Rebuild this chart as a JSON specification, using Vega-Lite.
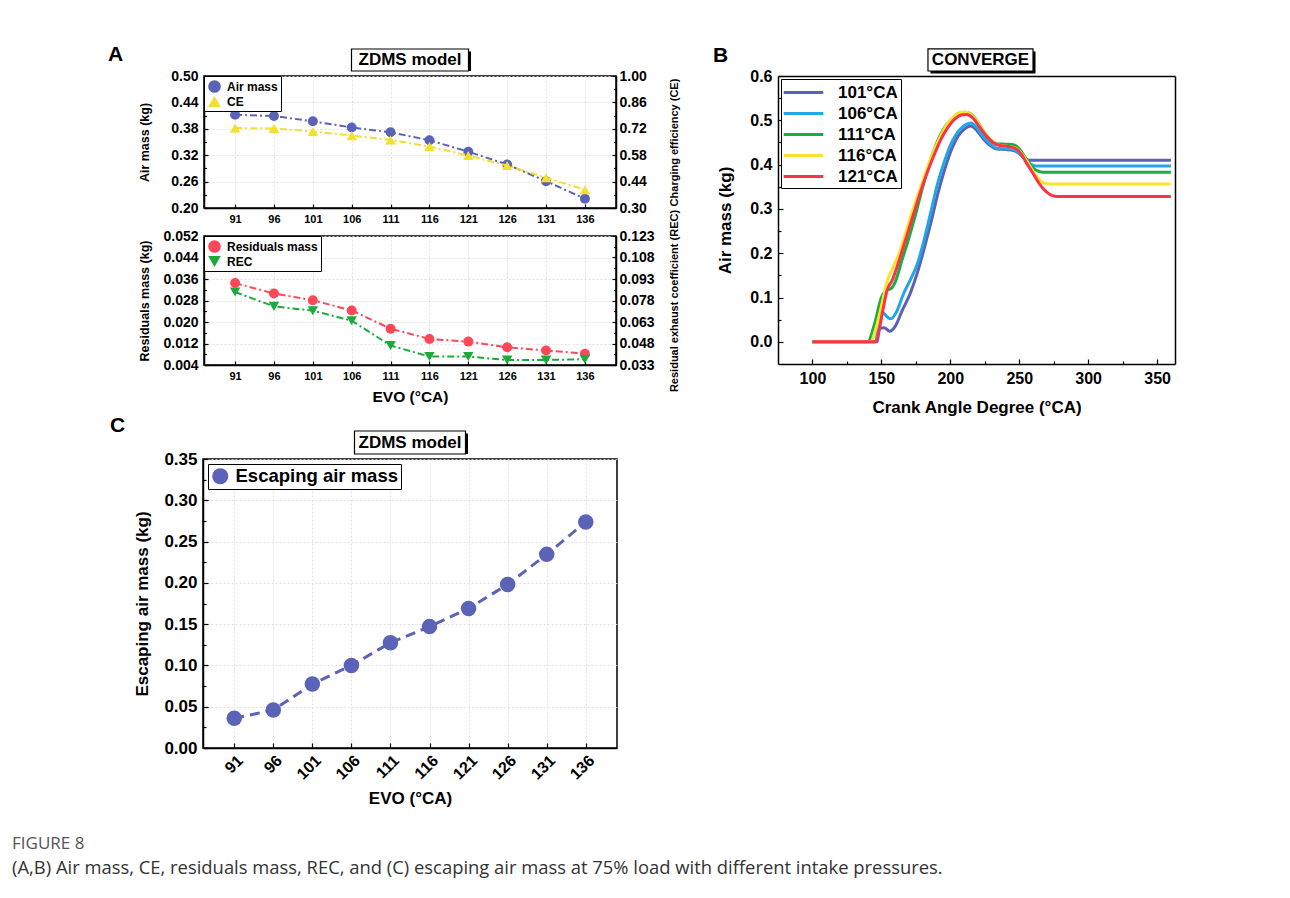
{
  "$schema": "https://vega.github.io/schema/vega-lite/v6.json",
  "padding": {"left": 12, "top": 44, "right": 10, "bottom": 10},
  "background": "white",
  "config": {
    "font": "Liberation Sans",
    "view": {"stroke": "black", "strokeWidth": 1.5},
    "axis": {"labelFont": "Liberation Sans", "titleFont": "Liberation Sans", "labelFontWeight": "bold", "titleFontWeight": "bold", "labelColor": "black", "titleColor": "black", "domainColor": "black", "domainWidth": 1.5, "tickColor": "black", "tickWidth": 1.2, "gridColor": "#d9d9d9", "gridDash": [2, 2], "gridWidth": 0.8},
    "legend": {"labelFont": "Liberation Sans", "labelFontWeight": "bold", "labelColor": "black", "strokeColor": "black", "fillColor": "white", "cornerRadius": 0, "labelLimit": 400},
    "title": {"font": "Liberation Sans", "fontWeight": "bold", "color": "black"}
  },
  "datasets": {
    "evo": [
      {"evo": 91, "air": 0.412, "ce": 0.724, "res": 0.0345, "rec": 0.0839, "esc": 0.036},
      {"evo": 96, "air": 0.409, "ce": 0.722, "res": 0.0306, "rec": 0.0739, "esc": 0.046},
      {"evo": 101, "air": 0.397, "ce": 0.706, "res": 0.0281, "rec": 0.0709, "esc": 0.0775},
      {"evo": 106, "air": 0.383, "ce": 0.684, "res": 0.0243, "rec": 0.0639, "esc": 0.1},
      {"evo": 111, "air": 0.372, "ce": 0.661, "res": 0.0175, "rec": 0.0466, "esc": 0.1275},
      {"evo": 116, "air": 0.354, "ce": 0.626, "res": 0.0137, "rec": 0.0389, "esc": 0.147},
      {"evo": 121, "air": 0.328, "ce": 0.578, "res": 0.0127, "rec": 0.0389, "esc": 0.169},
      {"evo": 126, "air": 0.299, "ce": 0.525, "res": 0.0106, "rec": 0.0365, "esc": 0.198},
      {"evo": 131, "air": 0.261, "ce": 0.46, "res": 0.0094, "rec": 0.0365, "esc": 0.2345},
      {"evo": 136, "air": 0.221, "ce": 0.397, "res": 0.0082, "rec": 0.037, "esc": 0.2737}
    ],
    "crank": [
      {"case": "101°CA", "cad": 100, "mass": 0}, {"case": "101°CA", "cad": 147, "mass": 0}, {"case": "101°CA", "cad": 148.5, "mass": 0.03}, {"case": "101°CA", "cad": 152, "mass": 0.032}, {"case": "101°CA", "cad": 156, "mass": 0.024}, {"case": "101°CA", "cad": 160, "mass": 0.035}, {"case": "101°CA", "cad": 165, "mass": 0.07}, {"case": "101°CA", "cad": 171, "mass": 0.11}, {"case": "101°CA", "cad": 176, "mass": 0.155}, {"case": "101°CA", "cad": 181, "mass": 0.21}, {"case": "101°CA", "cad": 186, "mass": 0.27}, {"case": "101°CA", "cad": 191, "mass": 0.335}, {"case": "101°CA", "cad": 196, "mass": 0.39}, {"case": "101°CA", "cad": 201, "mass": 0.435}, {"case": "101°CA", "cad": 206, "mass": 0.466}, {"case": "101°CA", "cad": 211, "mass": 0.482}, {"case": "101°CA", "cad": 215, "mass": 0.487}, {"case": "101°CA", "cad": 219, "mass": 0.478}, {"case": "101°CA", "cad": 224, "mass": 0.458}, {"case": "101°CA", "cad": 229, "mass": 0.443}, {"case": "101°CA", "cad": 234, "mass": 0.435}, {"case": "101°CA", "cad": 240, "mass": 0.434}, {"case": "101°CA", "cad": 246, "mass": 0.432}, {"case": "101°CA", "cad": 250, "mass": 0.425}, {"case": "101°CA", "cad": 254, "mass": 0.414}, {"case": "101°CA", "cad": 257, "mass": 0.41}, {"case": "101°CA", "cad": 360, "mass": 0.41},
      {"case": "106°CA", "cad": 100, "mass": 0}, {"case": "106°CA", "cad": 146, "mass": 0}, {"case": "106°CA", "cad": 148, "mass": 0.05}, {"case": "106°CA", "cad": 151, "mass": 0.066}, {"case": "106°CA", "cad": 154, "mass": 0.057}, {"case": "106°CA", "cad": 157, "mass": 0.052}, {"case": "106°CA", "cad": 161, "mass": 0.068}, {"case": "106°CA", "cad": 166, "mass": 0.108}, {"case": "106°CA", "cad": 171, "mass": 0.14}, {"case": "106°CA", "cad": 176, "mass": 0.175}, {"case": "106°CA", "cad": 181, "mass": 0.23}, {"case": "106°CA", "cad": 186, "mass": 0.295}, {"case": "106°CA", "cad": 191, "mass": 0.36}, {"case": "106°CA", "cad": 196, "mass": 0.41}, {"case": "106°CA", "cad": 201, "mass": 0.45}, {"case": "106°CA", "cad": 206, "mass": 0.476}, {"case": "106°CA", "cad": 211, "mass": 0.49}, {"case": "106°CA", "cad": 215, "mass": 0.494}, {"case": "106°CA", "cad": 219, "mass": 0.484}, {"case": "106°CA", "cad": 224, "mass": 0.463}, {"case": "106°CA", "cad": 229, "mass": 0.447}, {"case": "106°CA", "cad": 234, "mass": 0.437}, {"case": "106°CA", "cad": 240, "mass": 0.436}, {"case": "106°CA", "cad": 246, "mass": 0.434}, {"case": "106°CA", "cad": 250, "mass": 0.426}, {"case": "106°CA", "cad": 254, "mass": 0.413}, {"case": "106°CA", "cad": 258, "mass": 0.402}, {"case": "106°CA", "cad": 262, "mass": 0.397}, {"case": "106°CA", "cad": 360, "mass": 0.397},
      {"case": "111°CA", "cad": 100, "mass": 0}, {"case": "111°CA", "cad": 140, "mass": 0}, {"case": "111°CA", "cad": 145, "mass": 0.04}, {"case": "111°CA", "cad": 150, "mass": 0.1}, {"case": "111°CA", "cad": 153, "mass": 0.115}, {"case": "111°CA", "cad": 157, "mass": 0.12}, {"case": "111°CA", "cad": 160, "mass": 0.135}, {"case": "111°CA", "cad": 165, "mass": 0.185}, {"case": "111°CA", "cad": 170, "mass": 0.235}, {"case": "111°CA", "cad": 175, "mass": 0.29}, {"case": "111°CA", "cad": 180, "mass": 0.35}, {"case": "111°CA", "cad": 185, "mass": 0.405}, {"case": "111°CA", "cad": 190, "mass": 0.448}, {"case": "111°CA", "cad": 195, "mass": 0.48}, {"case": "111°CA", "cad": 200, "mass": 0.5}, {"case": "111°CA", "cad": 205, "mass": 0.512}, {"case": "111°CA", "cad": 210, "mass": 0.518}, {"case": "111°CA", "cad": 214, "mass": 0.516}, {"case": "111°CA", "cad": 219, "mass": 0.5}, {"case": "111°CA", "cad": 224, "mass": 0.476}, {"case": "111°CA", "cad": 229, "mass": 0.456}, {"case": "111°CA", "cad": 234, "mass": 0.447}, {"case": "111°CA", "cad": 240, "mass": 0.446}, {"case": "111°CA", "cad": 246, "mass": 0.445}, {"case": "111°CA", "cad": 250, "mass": 0.436}, {"case": "111°CA", "cad": 254, "mass": 0.418}, {"case": "111°CA", "cad": 258, "mass": 0.4}, {"case": "111°CA", "cad": 262, "mass": 0.388}, {"case": "111°CA", "cad": 267, "mass": 0.383}, {"case": "111°CA", "cad": 360, "mass": 0.383},
      {"case": "116°CA", "cad": 100, "mass": 0}, {"case": "116°CA", "cad": 142, "mass": 0}, {"case": "116°CA", "cad": 146, "mass": 0.03}, {"case": "116°CA", "cad": 150, "mass": 0.08}, {"case": "116°CA", "cad": 154, "mass": 0.135}, {"case": "116°CA", "cad": 158, "mass": 0.165}, {"case": "116°CA", "cad": 163, "mass": 0.2}, {"case": "116°CA", "cad": 168, "mass": 0.25}, {"case": "116°CA", "cad": 173, "mass": 0.3}, {"case": "116°CA", "cad": 178, "mass": 0.345}, {"case": "116°CA", "cad": 183, "mass": 0.39}, {"case": "116°CA", "cad": 188, "mass": 0.432}, {"case": "116°CA", "cad": 193, "mass": 0.465}, {"case": "116°CA", "cad": 198, "mass": 0.493}, {"case": "116°CA", "cad": 203, "mass": 0.51}, {"case": "116°CA", "cad": 208, "mass": 0.518}, {"case": "116°CA", "cad": 212, "mass": 0.518}, {"case": "116°CA", "cad": 216, "mass": 0.51}, {"case": "116°CA", "cad": 221, "mass": 0.49}, {"case": "116°CA", "cad": 226, "mass": 0.468}, {"case": "116°CA", "cad": 231, "mass": 0.452}, {"case": "116°CA", "cad": 236, "mass": 0.443}, {"case": "116°CA", "cad": 242, "mass": 0.441}, {"case": "116°CA", "cad": 247, "mass": 0.438}, {"case": "116°CA", "cad": 251, "mass": 0.428}, {"case": "116°CA", "cad": 255, "mass": 0.41}, {"case": "116°CA", "cad": 259, "mass": 0.39}, {"case": "116°CA", "cad": 263, "mass": 0.372}, {"case": "116°CA", "cad": 267, "mass": 0.36}, {"case": "116°CA", "cad": 272, "mass": 0.356}, {"case": "116°CA", "cad": 360, "mass": 0.356},
      {"case": "121°CA", "cad": 100, "mass": 0}, {"case": "121°CA", "cad": 146, "mass": 0}, {"case": "121°CA", "cad": 148, "mass": 0.02}, {"case": "121°CA", "cad": 151, "mass": 0.07}, {"case": "121°CA", "cad": 154, "mass": 0.115}, {"case": "121°CA", "cad": 158, "mass": 0.14}, {"case": "121°CA", "cad": 163, "mass": 0.185}, {"case": "121°CA", "cad": 168, "mass": 0.235}, {"case": "121°CA", "cad": 173, "mass": 0.285}, {"case": "121°CA", "cad": 178, "mass": 0.335}, {"case": "121°CA", "cad": 183, "mass": 0.38}, {"case": "121°CA", "cad": 188, "mass": 0.42}, {"case": "121°CA", "cad": 193, "mass": 0.456}, {"case": "121°CA", "cad": 198, "mass": 0.483}, {"case": "121°CA", "cad": 203, "mass": 0.502}, {"case": "121°CA", "cad": 208, "mass": 0.512}, {"case": "121°CA", "cad": 212, "mass": 0.513}, {"case": "121°CA", "cad": 216, "mass": 0.506}, {"case": "121°CA", "cad": 221, "mass": 0.486}, {"case": "121°CA", "cad": 226, "mass": 0.465}, {"case": "121°CA", "cad": 231, "mass": 0.45}, {"case": "121°CA", "cad": 236, "mass": 0.443}, {"case": "121°CA", "cad": 242, "mass": 0.441}, {"case": "121°CA", "cad": 247, "mass": 0.437}, {"case": "121°CA", "cad": 251, "mass": 0.426}, {"case": "121°CA", "cad": 255, "mass": 0.405}, {"case": "121°CA", "cad": 260, "mass": 0.38}, {"case": "121°CA", "cad": 265, "mass": 0.355}, {"case": "121°CA", "cad": 270, "mass": 0.338}, {"case": "121°CA", "cad": 274, "mass": 0.33}, {"case": "121°CA", "cad": 278, "mass": 0.328}, {"case": "121°CA", "cad": 360, "mass": 0.328}
    ]
  },
  "title": {
    "text": "FIGURE 8",
    "subtitle": "(A,B) Air mass, CE, residuals mass, REC, and (C) escaping air mass at 75% load with different intake pressures.",
    "orient": "bottom", "anchor": "start", "frame": "group", "dx": -191, "offset": 29,
    "font": "Open Sans", "fontSize": 17, "fontWeight": "normal", "color": "#555555",
    "subtitleFont": "Open Sans", "subtitleFontSize": 18.4, "subtitleColor": "#333333", "subtitlePadding": 6
  },
  "bounds": "flush",
  "columns": 2,
  "spacing": {"row": 5, "column": 161},
  "center": {"row": false, "column": true},
  "resolve": {"scale": {"color": "independent", "shape": "independent"}},
  "concat": [
    {
      "title": {"text": "A", "anchor": "start", "frame": "group", "dx": -243.5, "offset": -17, "fontSize": 21},
      "width": 117, "height": 22,
      "view": {"stroke": null},
      "data": {"values": [{"label": "ZDMS model"}]},
      "layer": [
        {"mark": {"type": "rect", "fill": "black", "xOffset": 2.5, "x2Offset": 2.5, "yOffset": 2.5, "y2Offset": 2.5}, "encoding": {}},
        {"mark": {"type": "rect", "fill": "white", "stroke": "black", "strokeWidth": 1.2}, "encoding": {}},
        {"mark": {"type": "text", "fontSize": 17, "fontWeight": "bold", "font": "Liberation Sans", "color": "black"}, "encoding": {"text": {"field": "label", "type": "nominal"}}}
      ]
    },
    {
      "title": {"text": "B", "anchor": "start", "frame": "group", "dx": -65, "offset": -17, "fontSize": 21},
      "width": 1, "height": 22,
      "view": {"stroke": null},
      "data": {"values": [{"t": ""}]},
      "mark": {"type": "text"},
      "encoding": {"text": {"field": "t", "type": "nominal"}}
    },
    {
      "width": 412, "height": 132,
      "data": {"name": "evo"},
      "encoding": {
        "x": {"field": "evo", "type": "quantitative", "scale": {"domain": [87, 140], "nice": false, "zero": false},
          "axis": {"values": [91, 96, 101, 106, 111, 116, 121, 126, 131, 136], "title": null, "labelFontSize": 11, "grid": true, "tickSize": -4, "labelPadding": 9, "labelFlush": false}}
      },
      "layer": [
        {
          "encoding": {"y": {"field": "air", "type": "quantitative", "scale": {"domain": [0.2, 0.5], "nice": false, "zero": false},
            "axis": {"orient": "left", "values": [0.2, 0.26, 0.32, 0.38, 0.44, 0.5], "format": ".2f", "title": "Air mass (kg)", "titleFontSize": 12.5, "labelFontSize": 14, "grid": true, "tickSize": -4, "labelPadding": 10, "titlePadding": 19}}},
          "layer": [
            {"mark": {"type": "line", "color": "#5B63B8", "strokeWidth": 2, "strokeDash": [7, 3, 2, 3]}},
            {"mark": {"type": "point", "filled": true, "opacity": 1, "size": 100},
              "encoding": {
                "color": {"datum": "Air mass", "scale": {"domain": ["Air mass", "CE"], "range": ["#5B63B8", "#F5DF2A"]},
                  "legend": {"title": null, "orient": "top-left", "offset": 0, "labelFontSize": 12, "symbolSize": 160, "padding": 3, "rowPadding": 1, "labelOffset": 5}},
                "shape": {"datum": "Air mass", "scale": {"domain": ["Air mass", "CE"], "range": ["circle", "triangle-up"]},
                  "legend": {"title": null, "orient": "top-left", "offset": 0, "labelFontSize": 12, "symbolSize": 160, "padding": 3, "rowPadding": 1, "labelOffset": 5}}
              }}
          ]
        },
        {
          "encoding": {"y": {"field": "ce", "type": "quantitative", "scale": {"domain": [0.3, 1.0], "nice": false, "zero": false},
            "axis": {"orient": "right", "values": [0.3, 0.44, 0.58, 0.72, 0.86, 1.0], "format": ".2f", "title": "Charging efficiency (CE)", "titleAngle": -90, "titleFontSize": 11, "labelFontSize": 14, "grid": false, "tickSize": -4, "labelPadding": 7, "titlePadding": 33}}},
          "layer": [
            {"mark": {"type": "line", "color": "#F5DF2A", "strokeWidth": 2, "strokeDash": [7, 3, 2, 3]}},
            {"mark": {"type": "point", "filled": true, "opacity": 1, "size": 110},
              "encoding": {"color": {"datum": "CE"}, "shape": {"datum": "CE"}}}
          ]
        },
        {
          "mark": {"type": "point", "opacity": 0},
          "encoding": {"y": {"field": "air", "type": "quantitative", "scale": {"domain": [0.2, 0.5], "nice": false, "zero": false},
            "axis": {"orient": "left", "values": [0.23, 0.29, 0.35, 0.41, 0.47], "labels": false, "domain": false, "grid": false, "title": null, "tickSize": -2.5}}}
        },
        {
          "mark": {"type": "point", "opacity": 0},
          "encoding": {"y": {"field": "ce", "type": "quantitative", "scale": {"domain": [0.3, 1.0], "nice": false, "zero": false},
            "axis": {"orient": "right", "values": [0.37, 0.51, 0.65, 0.79, 0.93], "labels": false, "domain": false, "grid": false, "title": null, "tickSize": -2.5}}}
        }
      ],
      "resolve": {"scale": {"y": "independent"}}
    },
    {
      "width": 397, "height": 155,
      "view": {"stroke": null},
      "data": {"name": "crank"},
      "layer": [
        {
          "mark": {"type": "line", "strokeWidth": 3, "interpolate": "monotone"},
          "encoding": {
            "x": {"field": "cad", "type": "quantitative", "scale": {"domain": [75, 363], "nice": false, "zero": false},
              "axis": {"orient": "bottom", "values": [100, 150, 200, 250, 300, 350], "offset": 133, "title": "Crank Angle Degree (°CA)", "titleFontSize": 17, "titlePadding": 13, "labelFontSize": 16, "grid": false, "tickSize": -5, "labelPadding": 11, "labelFlush": false}},
            "y": {"field": "mass", "type": "quantitative", "scale": {"domain": [-0.05, 0.6], "nice": false, "zero": false, "range": [288, 0]},
              "axis": {"orient": "left", "values": [0, 0.1, 0.2, 0.3, 0.4, 0.5, 0.6], "format": ".1f", "title": "Air mass (kg)", "titleFontSize": 17, "titlePadding": 15, "labelFontSize": 16, "grid": false, "tickSize": -5, "labelPadding": 11, "labelFlush": false}},
            "color": {"field": "case", "type": "nominal",
              "scale": {"domain": ["101°CA", "106°CA", "111°CA", "116°CA", "121°CA"], "range": ["#5A62B6", "#1EA9E6", "#1AAD44", "#FCE22B", "#F8334A"]},
              "legend": {"title": null, "orient": "top-left", "offset": 3, "labelFontSize": 17, "symbolType": "M-2.2,0H2.2", "symbolSize": 324, "symbolStrokeWidth": 3, "symbolOffset": 9, "labelOffset": 24, "padding": 3, "rowPadding": 2}}
          }
        },
        {
          "mark": {"type": "line", "opacity": 0},
          "encoding": {
            "x": {"field": "cad", "type": "quantitative", "axis": {"orient": "top", "labels": false, "ticks": false, "title": null, "grid": false}},
            "y": {"field": "mass", "type": "quantitative", "axis": {"orient": "right", "labels": false, "ticks": false, "title": null, "grid": false}}
          }
        },
        {
          "mark": {"type": "point", "opacity": 0},
          "encoding": {
            "x": {"field": "cad", "type": "quantitative", "axis": {"orient": "bottom", "offset": 133, "values": [125, 175, 225, 275, 325], "labels": false, "domain": false, "title": null, "grid": false, "tickSize": -3}},
            "y": {"field": "mass", "type": "quantitative", "axis": {"orient": "left", "values": [0.05, 0.15, 0.25, 0.35, 0.45, 0.55], "labels": false, "domain": false, "title": null, "grid": false, "tickSize": -3}}
          }
        },
        {
          "data": {"values": [{"label": "CONVERGE"}]},
          "mark": {"type": "rect", "fill": "black", "xOffset": 2.5, "x2Offset": 2.5, "yOffset": 2.5, "y2Offset": 2.5},
          "encoding": {
            "x": {"datum": 183.8, "type": "quantitative", "axis": null}, "x2": {"datum": 260},
            "y": {"datum": 0.6113, "type": "quantitative", "axis": null}, "y2": {"datum": 0.661}
          }
        },
        {
          "data": {"values": [{"label": "CONVERGE"}]},
          "mark": {"type": "rect", "fill": "white", "stroke": "black", "strokeWidth": 1.2},
          "encoding": {
            "x": {"datum": 183.8, "type": "quantitative", "axis": null}, "x2": {"datum": 260},
            "y": {"datum": 0.6113, "type": "quantitative", "axis": null}, "y2": {"datum": 0.661}
          }
        },
        {
          "data": {"values": [{"label": "CONVERGE"}]},
          "mark": {"type": "text", "fontSize": 17, "fontWeight": "bold", "font": "Liberation Sans", "color": "black"},
          "encoding": {
            "x": {"datum": 221.9, "type": "quantitative", "axis": null},
            "y": {"datum": 0.636, "type": "quantitative", "axis": null},
            "text": {"field": "label", "type": "nominal"}
          }
        }
      ],
      "resolve": {"axis": {"x": "independent", "y": "independent"}}
    },
    {
      "width": 412, "height": 129,
      "data": {"name": "evo"},
      "encoding": {
        "x": {"field": "evo", "type": "quantitative", "scale": {"domain": [87, 140], "nice": false, "zero": false},
          "axis": {"values": [91, 96, 101, 106, 111, 116, 121, 126, 131, 136], "title": "EVO (°CA)", "titleFontSize": 15.5, "titlePadding": 8, "labelFontSize": 11, "grid": true, "tickSize": -4, "labelPadding": 9, "labelFlush": false}}
      },
      "layer": [
        {
          "encoding": {"y": {"field": "res", "type": "quantitative", "scale": {"domain": [0.004, 0.052], "nice": false, "zero": false},
            "axis": {"orient": "left", "values": [0.004, 0.012, 0.02, 0.028, 0.036, 0.044, 0.052], "format": ".3f", "title": "Residuals mass (kg)", "titleFontSize": 12.5, "labelFontSize": 14, "grid": true, "tickSize": -4, "labelPadding": 10, "titlePadding": 11}}},
          "layer": [
            {"mark": {"type": "line", "color": "#FF4757", "strokeWidth": 2, "strokeDash": [7, 3, 2, 3]}},
            {"mark": {"type": "point", "filled": true, "opacity": 1, "size": 100},
              "encoding": {
                "color": {"datum": "Residuals mass", "scale": {"domain": ["Residuals mass", "REC"], "range": ["#FF4757", "#1DAA3C"]},
                  "legend": {"title": null, "orient": "top-left", "offset": 0, "labelFontSize": 12, "symbolSize": 160, "padding": 3, "rowPadding": 1, "labelOffset": 5}},
                "shape": {"datum": "Residuals mass", "scale": {"domain": ["Residuals mass", "REC"], "range": ["circle", "triangle-down"]},
                  "legend": {"title": null, "orient": "top-left", "offset": 0, "labelFontSize": 12, "symbolSize": 160, "padding": 3, "rowPadding": 1, "labelOffset": 5}}
              }}
          ]
        },
        {
          "encoding": {"y": {"field": "rec", "type": "quantitative", "scale": {"domain": [0.033, 0.123], "nice": false, "zero": false},
            "axis": {"orient": "right", "values": [0.033, 0.048, 0.063, 0.078, 0.093, 0.108, 0.123], "format": ".3f", "title": "Residual exhaust coefficient (REC)", "titleAngle": -90, "titleFontSize": 11, "labelFontSize": 14, "grid": false, "tickSize": -4, "labelPadding": 7, "titlePadding": 25}}},
          "layer": [
            {"mark": {"type": "line", "color": "#1DAA3C", "strokeWidth": 2, "strokeDash": [7, 3, 2, 3]}},
            {"mark": {"type": "point", "filled": true, "opacity": 1, "size": 110},
              "encoding": {"color": {"datum": "REC"}, "shape": {"datum": "REC"}}}
          ]
        },
        {
          "mark": {"type": "point", "opacity": 0},
          "encoding": {"y": {"field": "res", "type": "quantitative", "scale": {"domain": [0.004, 0.052], "nice": false, "zero": false},
            "axis": {"orient": "left", "values": [0.008, 0.016, 0.024, 0.032, 0.04, 0.048], "labels": false, "domain": false, "grid": false, "title": null, "tickSize": -2.5}}}
        },
        {
          "mark": {"type": "point", "opacity": 0},
          "encoding": {"y": {"field": "rec", "type": "quantitative", "scale": {"domain": [0.033, 0.123], "nice": false, "zero": false},
            "axis": {"orient": "right", "values": [0.0405, 0.0555, 0.0705, 0.0855, 0.1005, 0.1155], "labels": false, "domain": false, "grid": false, "title": null, "tickSize": -2.5}}}
        }
      ],
      "resolve": {"scale": {"y": "independent"}}
    },
    {
      "width": 1, "height": 190,
      "view": {"stroke": null},
      "data": {"values": [{"t": ""}]},
      "mark": {"type": "text"},
      "encoding": {"text": {"field": "t", "type": "nominal"}}
    },
    {
      "title": {"text": "C", "anchor": "start", "frame": "group", "dx": -244.5, "offset": -6, "fontSize": 21},
      "width": 111, "height": 23,
      "view": {"stroke": null},
      "data": {"values": [{"label": "ZDMS model"}]},
      "layer": [
        {"mark": {"type": "rect", "fill": "black", "xOffset": 2.5, "x2Offset": 2.5, "yOffset": 2.5, "y2Offset": 2.5}, "encoding": {}},
        {"mark": {"type": "rect", "fill": "white", "stroke": "black", "strokeWidth": 1.2}, "encoding": {}},
        {"mark": {"type": "text", "fontSize": 17, "fontWeight": "bold", "font": "Liberation Sans", "color": "black"}, "encoding": {"text": {"field": "label", "type": "nominal"}}}
      ]
    },
    {
      "width": 1, "height": 1,
      "view": {"stroke": null},
      "data": {"values": [{"t": ""}]},
      "mark": {"type": "text"},
      "encoding": {"text": {"field": "t", "type": "nominal"}}
    },
    {
      "width": 414, "height": 289,
      "data": {"name": "evo"},
      "encoding": {
        "x": {"field": "evo", "type": "quantitative", "scale": {"domain": [87, 140], "nice": false, "zero": false},
          "axis": {"values": [91, 96, 101, 106, 111, 116, 121, 126, 131, 136], "title": "EVO (°CA)", "titleFontSize": 17, "titlePadding": 8, "labelFontSize": 16, "labelAngle": -45, "grid": true, "tickSize": -5, "labelPadding": 9, "labelFlush": false}},
        "y": {"field": "esc", "type": "quantitative", "scale": {"domain": [0, 0.35], "nice": false, "zero": false},
          "axis": {"orient": "left", "values": [0, 0.05, 0.1, 0.15, 0.2, 0.25, 0.3, 0.35], "format": ".2f", "title": "Escaping air mass (kg)", "titleFontSize": 17, "titlePadding": 12, "labelFontSize": 17, "grid": true, "tickSize": -5, "labelPadding": 11, "labelFlush": false}}
      },
      "layer": [
        {
          "layer": [
            {"mark": {"type": "line", "color": "#5B63B8", "strokeWidth": 3, "strokeDash": [10, 6]}},
            {"mark": {"type": "point", "filled": true, "opacity": 1, "size": 240},
              "encoding": {"color": {"datum": "Escaping air mass", "scale": {"domain": ["Escaping air mass"], "range": ["#5B63B8"]},
                "legend": {"title": null, "orient": "top-left", "offset": 5, "labelFontSize": 18.5, "symbolSize": 260, "padding": 3, "labelOffset": 6}}}}
          ]
        },
        {
          "mark": {"type": "point", "opacity": 0},
          "encoding": {"y": {"field": "esc", "type": "quantitative",
            "axis": {"orient": "left", "values": [0.025, 0.075, 0.125, 0.175, 0.225, 0.275, 0.325], "labels": false, "domain": false, "grid": false, "title": null, "tickSize": -3}}}
        }
      ],
      "resolve": {"axis": {"y": "independent"}}
    }
  ]
}
